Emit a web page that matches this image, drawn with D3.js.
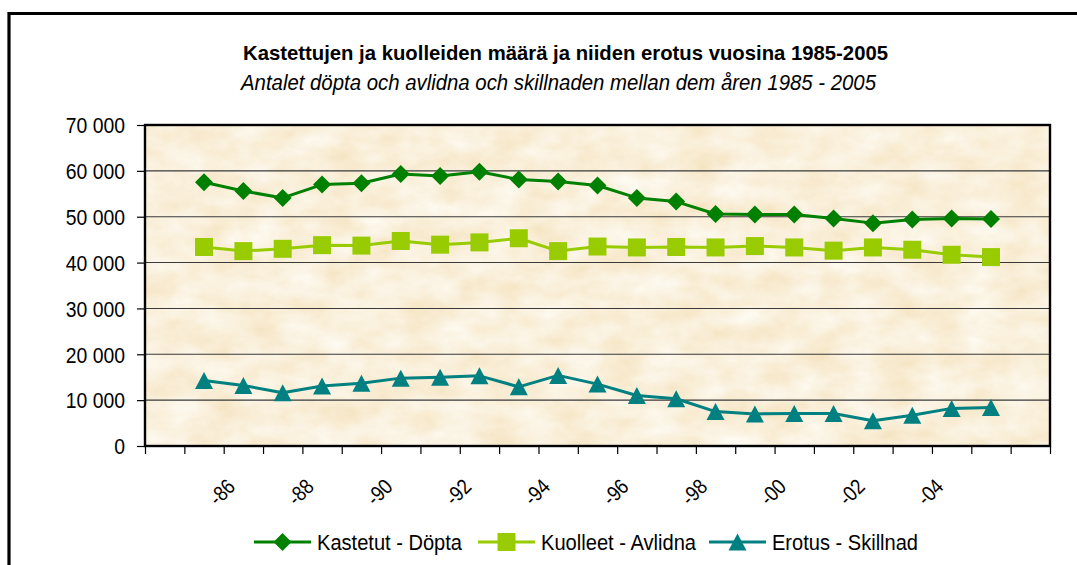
<!DOCTYPE html>
<html><head><meta charset="utf-8">
<script src="https://cdn.jsdelivr.net/npm/d3@7"></script>
<style>
html,body{margin:0;padding:0;background:#fff;}
svg{display:block;font-family:"Liberation Sans",Arial,sans-serif;}
</style></head>
<body>
<svg id="chart" width="1077" height="565"></svg>
<script>
const titleText = "Kastettujen ja kuolleiden määrä ja niiden erotus vuosina 1985-2005";
const subtitleText = "Antalet döpta och avlidna och skillnaden mellan dem åren 1985 - 2005";
const years = [1985,1986,1987,1988,1989,1990,1991,1992,1993,1994,1995,1996,1997,1998,1999,2000,2001,2002,2003,2004,2005];
const dopta =    [57500,55600,54100,57000,57300,59300,58900,59800,58100,57700,56800,54100,53300,50600,50500,50500,49600,48600,49400,49600,49500];
const avlidna =  [43400,42500,43000,43800,43700,44700,43900,44400,45300,42500,43500,43300,43400,43300,43600,43300,42600,43300,42800,41700,41200];
const skillnad = [14300,13200,11600,13100,13700,14800,15000,15300,12900,15400,13500,11000,10300,7500,7000,7100,7100,5500,6700,8200,8400];
const labelYears = [1986,1988,1990,1992,1994,1996,1998,2000,2002,2004];
const labelTexts = ["-86","-88","-90","-92","-94","-96","-98","-00","-02","-04"];
const yTicks = [0,10000,20000,30000,40000,50000,60000,70000];
const seriesNames = ["Kastetut - Döpta","Kuolleet - Avlidna","Erotus - Skillnad"];

const colors = ["#008000","#99CC00","#008080"];
const markers = ["diamond","square","triangle"];

const svg = d3.select("#chart");
const L = 145, R = 1050, T = 125, B = 446;

function squeeze(sel, k){
  sel.each(function(){
    const w = this.getComputedTextLength();
    d3.select(this).attr("textLength", w*k).attr("lengthAdjust","spacingAndGlyphs");
  });
}

// frame
svg.append("path").attr("d","M1090,13.5 L9,13.5 L9,580").attr("fill","none").attr("stroke","#000").attr("stroke-width",3.2);

// texture filter
const defs = svg.append("defs");
const f = defs.append("filter").attr("id","paper").attr("x",0).attr("y",0).attr("width",1).attr("height",1);
f.append("feTurbulence").attr("type","fractalNoise").attr("baseFrequency","0.025 0.04").attr("numOctaves",4).attr("seed",11).attr("result","n");
f.append("feColorMatrix").attr("in","n").attr("type","matrix")
 .attr("values","0 0 0 0 1  0 0 0 0 1  0 0 0 0 0.97  1.0 0 0 0 -0.05").attr("result","c");
f.append("feComposite").attr("in","c").attr("in2","SourceGraphic").attr("operator","in");

const x = d3.scaleLinear().domain([1983.5, 2006.5]).range([L, R]);
const y = d3.scaleLinear().domain([0, 70000]).range([B, T]);

// plot background
svg.append("rect").attr("x",L).attr("y",T).attr("width",R-L).attr("height",B-T).attr("fill","#F5E3C0");
svg.append("rect").attr("x",L).attr("y",T).attr("width",R-L).attr("height",B-T).attr("fill","#fff").attr("filter","url(#paper)");

// gridlines
svg.append("g").selectAll("line").data(yTicks.filter(d=>d>0 && d<70000)).join("line")
  .attr("x1",L).attr("x2",R).attr("y1",d=>y(d)).attr("y2",d=>y(d))
  .attr("stroke","#3a3a3a").attr("stroke-width",1.1);

// y axis
const loc = d3.formatLocale({decimal:",", thousands:" ", grouping:[3], currency:["",""]});
const fmt = loc.format(",d");
const yAxis = svg.append("g").attr("transform",`translate(${L},0)`)
  .call(d3.axisLeft(y).tickValues(yTicks).tickFormat(fmt).tickSize(8).tickPadding(12));
yAxis.select(".domain").remove();
yAxis.selectAll(".tick line").attr("stroke","#000").attr("stroke-width",1.2);
yAxis.selectAll(".tick text").attr("font-size",21.5).attr("fill","#000")
  .attr("font-family","'Liberation Sans',Arial,sans-serif").attr("dy","0.36em");
squeeze(yAxis.selectAll(".tick text"), 0.9);

// x axis ticks
const tickPos = d3.range(0,24).map(i=>1983.5+i);
const xAxis = svg.append("g").attr("transform",`translate(0,${B})`)
  .call(d3.axisBottom(x).tickValues(tickPos).tickFormat("").tickSize(8));
xAxis.select(".domain").remove();
xAxis.selectAll(".tick line").attr("stroke","#000").attr("stroke-width",1.2);

// x labels
const xl = svg.append("g").selectAll("text").data(labelYears).join("text")
  .attr("transform",(d)=>`translate(${x(d)-21.5},492) rotate(-45)`)
  .attr("text-anchor","middle").attr("dy","0.35em")
  .attr("font-size",21.5).attr("fill","#000")
  .text((d,i)=>labelTexts[i]);
squeeze(xl, 0.85);

// plot border
svg.append("rect").attr("x",L).attr("y",T).attr("width",R-L).attr("height",B-T)
  .attr("fill","none").attr("stroke","#000").attr("stroke-width",2.4);

function markerPath(type, cx, cy){
  if(type==="diamond"){const h=9;return `M${cx},${cy-h}L${cx+h},${cy}L${cx},${cy+h}L${cx-h},${cy}Z`;}
  if(type==="square"){const h=9;return `M${cx-h},${cy-h}h${2*h}v${2*h}h${-2*h}Z`;}
  const w=9,h=8.5;return `M${cx},${cy-h}L${cx+w},${cy+h}L${cx-w},${cy+h}Z`;
}

const allSeries = [dopta, avlidna, skillnad];
const line = d3.line().x((d,i)=>x(years[i])).y(d=>y(d));
allSeries.forEach((vals, si)=>{
  const g = svg.append("g");
  g.append("path").datum(vals).attr("d",line).attr("fill","none")
   .attr("stroke",colors[si]).attr("stroke-width",3).attr("stroke-linejoin","round");
  g.selectAll("path.m").data(vals).join("path").attr("class","m")
   .attr("d",(d,i)=>markerPath(markers[si], x(years[i]), y(d)))
   .attr("fill",colors[si]);
});

// titles
svg.append("text").attr("x",565.5).attr("y",60).attr("text-anchor","middle")
  .attr("font-size",21).attr("font-weight","bold").attr("fill","#000")
  .attr("textLength",645).attr("lengthAdjust","spacingAndGlyphs").text(titleText);
svg.append("text").attr("x",558.5).attr("y",90).attr("text-anchor","middle")
  .attr("font-size",21.5).attr("font-style","italic").attr("fill","#000")
  .attr("textLength",635).attr("lengthAdjust","spacingAndGlyphs").text(subtitleText);

// legend
const legendX = [254, 478, 709];
const legendTextW = [145, 155, 146];
const legY = 542;
seriesNames.forEach((name, si)=>{
  const g = svg.append("g");
  const x0 = legendX[si];
  g.append("line").attr("x1",x0).attr("x2",x0+57).attr("y1",legY).attr("y2",legY)
   .attr("stroke",colors[si]).attr("stroke-width",3);
  g.append("path").attr("d",markerPath(markers[si], x0+28.5, legY)).attr("fill",colors[si]);
  g.append("text").attr("x",x0+63).attr("y",legY+8).attr("font-size",21.5).attr("fill","#000")
   .attr("textLength",legendTextW[si]).attr("lengthAdjust","spacingAndGlyphs").text(name);
});
</script>
</body></html>
